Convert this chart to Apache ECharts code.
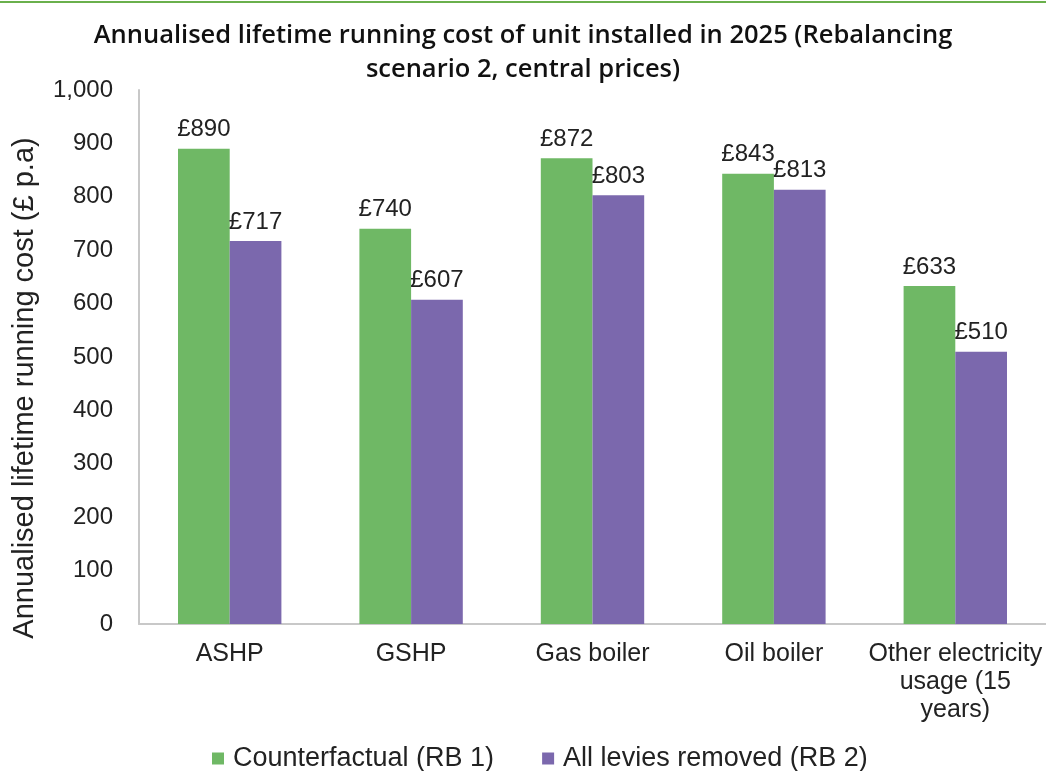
<!DOCTYPE html>
<html>
<head>
<meta charset="utf-8">
<script src="https://cdn.jsdelivr.net/npm/echarts@6/dist/echarts.min.js"></script>
<style>
  html, body { margin: 0; padding: 0; background: #fff; }
  #chart { width: 1046px; height: 771px; }
</style>
</head>
<body>
<div id="chart"></div>
<script>
// data
const categories = ['ASHP', 'GSHP', 'Gas boiler', 'Oil boiler', 'Other electricity\nusage (15\nyears)'];
const counterfactual = [890, 740, 872, 843, 633];
const leviesRemoved = [717, 607, 803, 813, 510];
const seriesNames = ['Counterfactual (RB 1)', 'All levies removed (RB 2)'];

const myChart = echarts.init(document.getElementById('chart'));

const labelStyle = {
  show: true,
  position: 'top',
  distance: 7,
  color: '#222',
  fontFamily: 'Liberation Sans, Arial',
  fontSize: 24,
  formatter: (p) => '£' + p.value,
};

const option = {
  backgroundColor: '#fff',
  animation: false,
  title: {
    text: 'Annualised lifetime running cost of unit installed in 2025 (Rebalancing\nscenario 2, central prices)',
    left: 'center',
    top: 14,
    textStyle: {
      fontFamily: 'Open Sans',
      fontWeight: 600,
      fontSize: 25.5,
      lineHeight: 34,
      color: '#111',
    },
  },
  graphic: [
    {
      type: 'rect',
      shape: { x: 0, y: 1, width: 1046, height: 2 },
      style: { fill: '#6ab04c' },
    },
  ],
  legend: {
    top: 740,
    left: 207,
    itemGap: 48,
    itemWidth: 12,
    itemHeight: 12,
    icon: 'rect',
    data: seriesNames,
    textStyle: {
      fontFamily: 'Liberation Sans, Arial',
      fontSize: 27,
      color: '#222',
      padding: [0, 0, 0, 4],
    },
  },
  grid: {
    left: 139,
    top: 90,
    width: 915,
    bottom: 147,
    containLabel: false,
  },
  xAxis: {
    type: 'category',
    data: categories,
    axisLine: { show: true, lineStyle: { color: '#c8c8c8', width: 2 } },
    axisTick: { show: false },
    axisLabel: {
      fontFamily: 'Liberation Sans, Arial',
      fontSize: 25,
      color: '#222',
      lineHeight: 28,
      margin: 16,
      interval: 0,
    },
  },
  yAxis: {
    type: 'value',
    min: 0,
    max: 1000,
    interval: 100,
    name: 'Annualised lifetime running cost (£ p.a)',
    nameLocation: 'middle',
    nameGap: 100,
    nameTextStyle: {
      fontFamily: 'Liberation Sans, Arial',
      fontSize: 29,
      color: '#222',
      padding: [0, 62, 0, 0],
    },
    axisLine: { show: true, lineStyle: { color: '#c8c8c8', width: 2 } },
    axisTick: { show: false },
    splitLine: { show: false },
    axisLabel: {
      fontFamily: 'Liberation Sans, Arial',
      fontSize: 24,
      color: '#222',
      margin: 26,
      formatter: (v) => v.toLocaleString('en-GB'),
    },
  },
  series: [
    {
      name: seriesNames[0],
      type: 'bar',
      data: counterfactual,
      barGap: '0%',
      barCategoryGap: '43%',
      itemStyle: { color: '#6fb865' },
      label: labelStyle,
    },
    {
      name: seriesNames[1],
      type: 'bar',
      data: leviesRemoved,
      itemStyle: { color: '#7b68ad' },
      label: labelStyle,
    },
  ],
};

myChart.setOption(option);
</script>
</body>
</html>
